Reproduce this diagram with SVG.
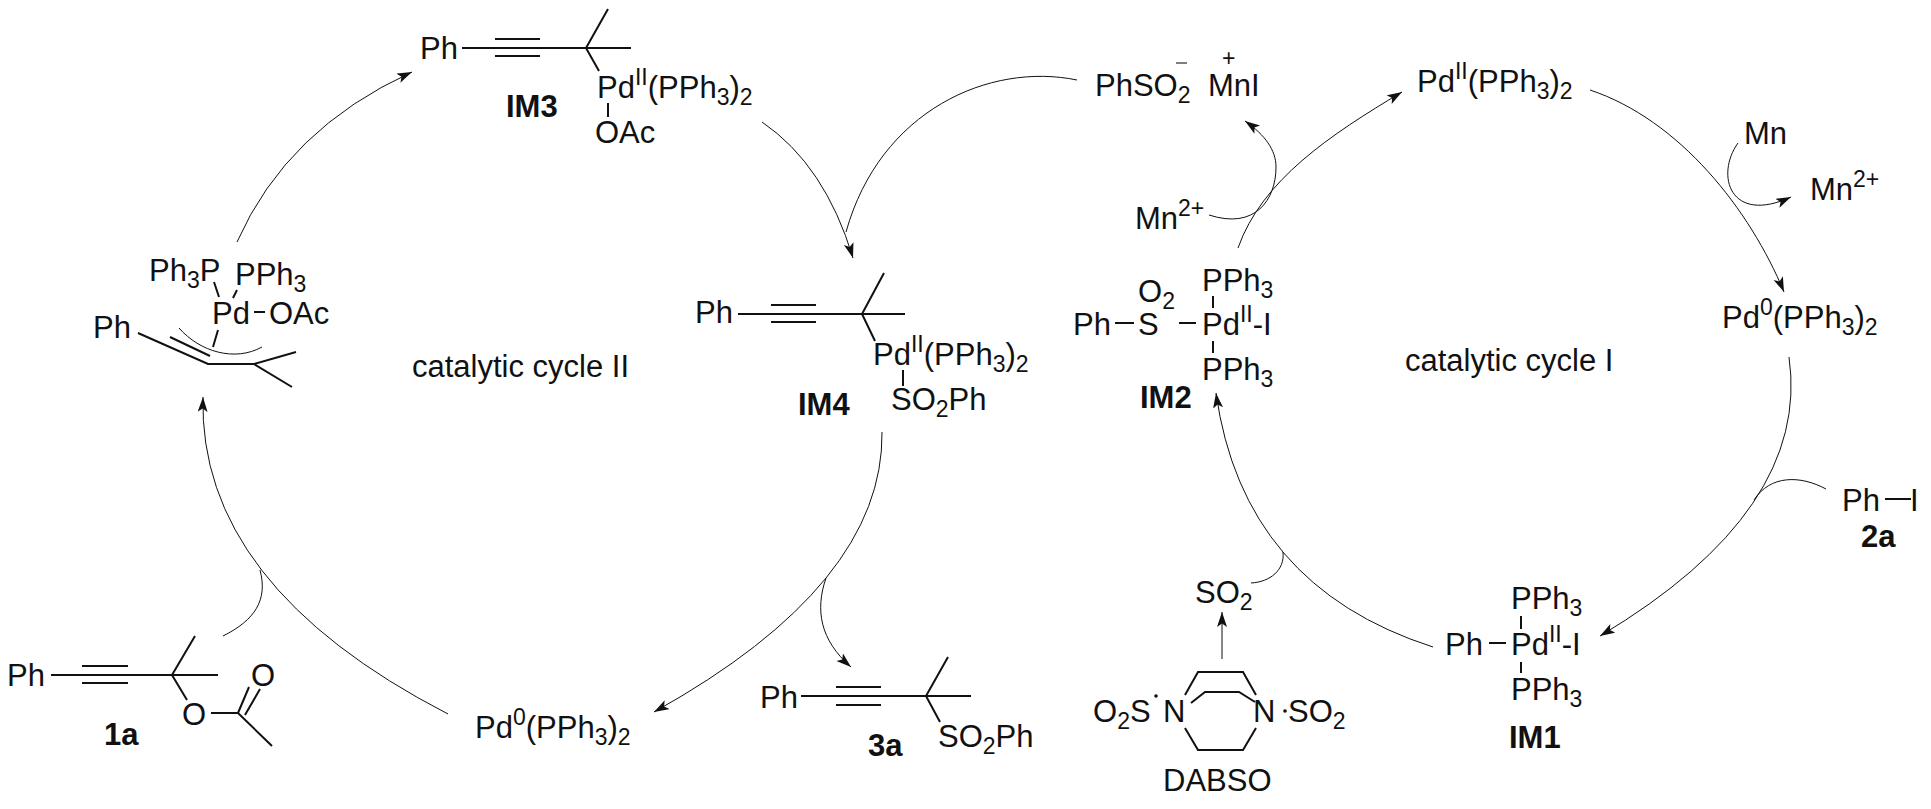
<svg xmlns="http://www.w3.org/2000/svg" width="1931" height="809" viewBox="0 0 1931 809">
<style>
text{font-family:"Liberation Sans",Arial,sans-serif;font-size:31px;fill:#111}
.b{font-weight:bold}
.s{font-size:23px}
.bond{stroke:#111;stroke-width:2;fill:none}
.t{stroke:#111;stroke-width:1;fill:none}
.a{marker-end:url(#ah)}
</style>
<defs><marker id="ah" markerUnits="userSpaceOnUse" markerWidth="18" markerHeight="12" refX="15" refY="5" orient="auto"><path d="M0 0L15 5L0 10L3.5 5Z" fill="#111"/></marker></defs>
<rect width="1931" height="809" fill="#fff"/>
<g id="connectors">
<path class="t a" d="M237 242Q287 129 412 72"/>
<path class="t a" d="M762 122Q825 165 853 258"/>
<path class="t" d="M1077 80C990 62 880 110 846 232"/>
<path class="t a" d="M882 432Q884 584 654 712"/>
<path class="t a" d="M826 578C815 610 820 640 851 667"/>
<path class="t a" d="M448 714Q198 585 203 397"/>
<path class="t" d="M223 636C255 620 268 600 260 570"/>
<path class="t a" d="M1238 248C1262 180 1330 135 1402 92"/>
<path class="t a" d="M1590 90C1680 120 1750 210 1784 292"/>
<path class="t a" d="M1738 143C1715 175 1730 225 1791 197"/>
<path class="t a" d="M1209 215C1255 230 1276 200 1276 167C1276 150 1265 135 1245 121"/>
<path class="t a" d="M1789 357Q1811 510 1600 636"/>
<path class="t" d="M1826 489C1800 475 1770 475 1754 500"/>
<path class="t a" d="M1433 647Q1243 586 1216 393"/>
<path class="t" d="M1251 583C1270 582 1285 570 1283 552"/>
<path class="t a" d="M1222 659V612"/>
</g>
<g id="IM3">
<text x="420" y="59">Ph</text>
<path class="bond" d="M462 48H631M495 39H540M495 56H540M608 9L586 48L599 71M608 103V117"/>
<text x="597" y="98">Pd<tspan class="s" dy="-13">II</tspan><tspan dy="13">(PPh</tspan><tspan class="s" dy="7">3</tspan><tspan dy="-7">)</tspan><tspan class="s" dy="7">2</tspan></text>
<text x="595" y="143">OAc</text>
<text class="b" x="506" y="117">IM3</text>
</g>
<g id="PdComplex">
<text x="149" y="281">Ph<tspan class="s" dy="7">3</tspan><tspan dy="-7">P</tspan></text>
<text x="235" y="285">PPh<tspan class="s" dy="7">3</tspan></text>
<text x="212" y="324">Pd</text>
<text x="269" y="324">OAc</text>
<text x="93" y="338">Ph</text>
<path class="bond" d="M214 282L219 297M237 290L233 298M218 330L213 347M254 312H265M138 333L208 364H254L296 352M254 364L292 387M170 337L210 356"/>
<path class="t" d="M179 328C200 352 235 362 262 347"/>
</g>
<g id="cycleII"><text x="412" y="377">catalytic cycle II</text></g>
<g id="IM4">
<text x="695" y="323">Ph</text>
<path class="bond" d="M738 314H905M771 305H816M771 322H816M884 273L862 314L875 341M903 370V386"/>
<text x="873" y="365">Pd<tspan class="s" dy="-13">II</tspan><tspan dy="13">(PPh</tspan><tspan class="s" dy="7">3</tspan><tspan dy="-7">)</tspan><tspan class="s" dy="7">2</tspan></text>
<text x="891" y="410">SO<tspan class="s" dy="7">2</tspan><tspan dy="-7">Ph</tspan></text>
<text class="b" x="798" y="415">IM4</text>
</g>
<g id="c3a">
<text x="760" y="708">Ph</text>
<path class="bond" d="M801 696H971M836 687H881M836 705H881M948 657L926 696L940 722"/>
<text x="938" y="747">SO<tspan class="s" dy="7">2</tspan><tspan dy="-7">Ph</tspan></text>
<text class="b" x="868" y="756">3a</text>
</g>
<g id="Pd0left"><text x="475" y="738">Pd<tspan class="s" dy="-13">0</tspan><tspan dy="13">(PPh</tspan><tspan class="s" dy="7">3</tspan><tspan dy="-7">)</tspan><tspan class="s" dy="7">2</tspan></text></g>
<g id="c1a">
<text x="7" y="686">Ph</text>
<path class="bond" d="M51 675H218M82 666H128M82 683H128M195 636L172 675L187 700M211 713H238L272 746M238 713L249 687M245 715L260 689"/>
<text x="182" y="725">O</text>
<text x="251" y="686">O</text>
<text class="b" x="104" y="745">1a</text>
</g>
<g id="salt">
<text x="1095" y="96">PhSO<tspan class="s" dy="7">2</tspan></text>
<text x="1208" y="96">MnI</text>
<path d="M1176 63H1187" stroke="#555" stroke-width="1.5"/>
<text class="s" x="1222" y="66" fill="#555">+</text>
</g>
<g id="PdII"><text x="1417" y="92">Pd<tspan class="s" dy="-13">II</tspan><tspan dy="13">(PPh</tspan><tspan class="s" dy="7">3</tspan><tspan dy="-7">)</tspan><tspan class="s" dy="7">2</tspan></text></g>
<g id="Mn"><text x="1744" y="144">Mn</text></g>
<g id="Mn2a"><text x="1810" y="200">Mn<tspan class="s" dy="-13">2+</tspan></text></g>
<g id="Mn2b"><text x="1135" y="229">Mn<tspan class="s" dy="-13">2+</tspan></text></g>
<g id="IM2">
<text x="1138" y="302">O<tspan class="s" dy="7">2</tspan></text>
<text x="1073" y="335">Ph</text>
<text x="1138" y="335">S</text>
<path class="bond" d="M1115 323H1134M1179 323H1196M1213 296V308M1213 341V353"/>
<text x="1202" y="335">Pd<tspan class="s" dy="-13">II</tspan><tspan dy="13">-I</tspan></text>
<text x="1202" y="291">PPh<tspan class="s" dy="7">3</tspan></text>
<text x="1202" y="380">PPh<tspan class="s" dy="7">3</tspan></text>
<text class="b" x="1140" y="408">IM2</text>
</g>
<g id="cycleI"><text x="1405" y="371">catalytic cycle I</text></g>
<g id="Pd0right"><text x="1722" y="328">Pd<tspan class="s" dy="-13">0</tspan><tspan dy="13">(PPh</tspan><tspan class="s" dy="7">3</tspan><tspan dy="-7">)</tspan><tspan class="s" dy="7">2</tspan></text></g>
<g id="c2a">
<text x="1842" y="511">Ph</text>
<path class="bond" d="M1885 499H1911"/>
<text x="1910" y="511">I</text>
<text class="b" x="1861" y="547">2a</text>
</g>
<g id="IM1">
<text x="1445" y="655">Ph</text>
<path class="bond" d="M1489 643H1506M1521 616V629M1521 662V673"/>
<text x="1511" y="655">Pd<tspan class="s" dy="-13">II</tspan><tspan dy="13">-I</tspan></text>
<text x="1511" y="609">PPh<tspan class="s" dy="7">3</tspan></text>
<text x="1511" y="700">PPh<tspan class="s" dy="7">3</tspan></text>
<text class="b" x="1509" y="748">IM1</text>
</g>
<g id="SO2"><text x="1195" y="603">SO<tspan class="s" dy="7">2</tspan></text></g>
<g id="DABSO">
<text x="1093" y="722">O<tspan class="s" dy="7">2</tspan><tspan dy="-7">S</tspan></text>
<text x="1163" y="722">N</text>
<text x="1253" y="722">N</text>
<text x="1288" y="722">SO<tspan class="s" dy="7">2</tspan></text>
<circle cx="1156" cy="696" r="1.8" fill="#111"/>
<circle cx="1285" cy="711" r="1.8" fill="#111"/>
<path class="bond" d="M1185 695L1198 672H1243L1256 695M1191 703L1205 692H1239L1255 702M1185 728L1198 750H1243L1256 728"/>
<text x="1163" y="791">DABSO</text>
</g>
</svg>
